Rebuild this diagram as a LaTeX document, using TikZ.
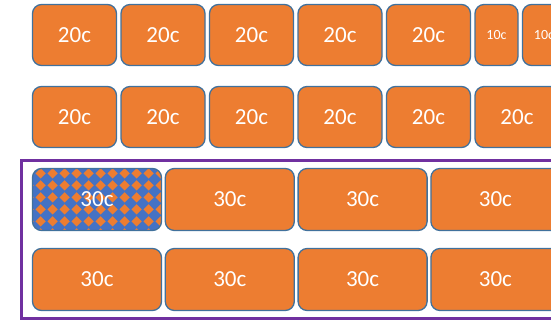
\documentclass[tikz,border=0pt]{standalone}
\usepackage{fontspec}
\setmainfont{Carlito}
\usepackage{tikz}
\usetikzlibrary{positioning, patterns.meta}
\definecolor{coinorange}{HTML}{ED7D31}
\definecolor{coinedge}{HTML}{41719C}
\definecolor{coinblue}{HTML}{4472C4}
\definecolor{framepurple}{HTML}{7030A0}
\tikzdeclarepattern{
    name=diamondgrid, type=uncolored,
    bottom left={(0pt,0pt)}, top right={(11.6pt,11.6pt)},
    tile size={(11.6pt,11.6pt)},
    code={\fill (5.8pt,0.5pt) -- (11.1pt,5.8pt) -- (5.8pt,11.1pt) -- (0.5pt,5.8pt) -- cycle;}
}
\tikzset{
    coin/.style={rectangle, draw=coinedge, line width=1.3pt, rounded corners=9pt, fill=coinorange, text=white, inner sep=0pt, minimum height=61pt, font=\fontsize{23}{26}\selectfont},
    coin20/.style={coin, minimum width=84pt},
    coin10/.style={coin, minimum width=43pt, font=\fontsize{14}{16}\selectfont},
    coin30/.style={coin, minimum width=129pt, minimum height=62pt},
    picked/.style={preaction={fill=coinblue}, pattern={diamondgrid}, pattern color=coinorange},
    frame/.style={draw=framepurple, line width=3pt}
}
\begin{document}
\begin{tikzpicture}[x=1pt, y=-1pt, node distance=19.7pt and 3.2pt]
    \clip (0,0) rectangle (551,320);
    % first row of 20c and 10c
    \node (r1a) [coin20] at (74.5,35) {20c};
    \node (r1b) [coin20, right=of r1a] {20c};
    \node (r1c) [coin20, right=of r1b] {20c};
    \node (r1d) [coin20, right=of r1c] {20c};
    \node (r1e) [coin20, right=of r1d] {20c};
    \node (r1f) [coin10, right=of r1e] {10c};
    \node (r1g) [coin10, right=of r1f] {10c};
    % second row of 20c
    \node (r2a) [coin20, below=of r1a] {20c};
    \node (r2b) [coin20, right=of r2a] {20c};
    \node (r2c) [coin20, right=of r2b] {20c};
    \node (r2d) [coin20, right=of r2c] {20c};
    \node (r2e) [coin20, right=of r2d] {20c};
    \node (r2f) [coin20, right=of r2e] {20c};
    % framed 30c rows
    \draw [frame] (21.5,160.5) rectangle (620,318.5);
    \node (r3a) [coin30, picked] at (97,199.5) {30c};
    \node (r3b) [coin30, right=2.5pt of r3a] {30c};
    \node (r3c) [coin30, right=2.5pt of r3b] {30c};
    \node (r3d) [coin30, right=2.5pt of r3c] {30c};
    \node (r4a) [coin30, below=16.7pt of r3a] {30c};
    \node (r4b) [coin30, right=2.5pt of r4a] {30c};
    \node (r4c) [coin30, right=2.5pt of r4b] {30c};
    \node (r4d) [coin30, right=2.5pt of r4c] {30c};
\end{tikzpicture}
\end{document}
